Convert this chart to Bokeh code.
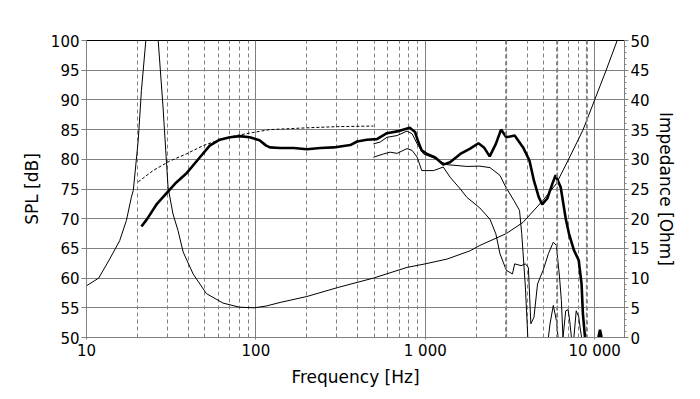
import numpy as np
from bokeh.plotting import figure
from bokeh.models import Range1d, LinearAxis, FixedTicker, Span, CustomJSTickFormatter
from bokeh.embed import file_html
from bokeh.resources import INLINE

# ---------------- data ----------------
x_major = [10, 100, 1000, 10000]
x_minor = [20, 30, 40, 50, 60, 70, 80, 90,
           200, 300, 400, 500, 600, 700, 800, 900,
           2000, 3000, 4000, 5000, 6000, 7000, 8000, 9000]
spl_ticks = [50, 55, 60, 65, 70, 75, 80, 85, 90, 95, 100]
imp_ticks = [0, 5, 10, 15, 20, 25, 30, 35, 40, 45, 50]
bold_minor = [3000, 6000, 9000]

# impedance curve (Ohm, right axis)
imp_f = [10, 11.8, 13.7, 15.7, 17.2, 18.4, 18.9, 20.2, 21.1, 22.4, 24.5, 26.5, 28.3,
         30.3, 32.4, 34.7, 37.2, 42.6, 51, 63.9, 80, 98, 115, 139, 200, 303, 494,
         780, 1000, 1343, 1840, 2100, 3010, 3780, 4960, 5940, 7130, 8520, 10000,
         11690, 13580, 15000]
imp_ohm = [8.7, 10.0, 13.2, 16.3, 19.7, 23.6, 24.8, 33.2, 41.6, 50, 63, 50, 38.8,
           25.3, 20.8, 18.0, 14.4, 10.7, 7.4, 5.8, 5.1, 5.0, 5.3, 5.9, 6.9, 8.4, 10.0,
           11.8, 12.4, 13.2, 14.6, 15.5, 17.5, 19.4, 23.1, 25.9, 30.4, 34.9, 40.0,
           45.0, 50.0, 54.0]

# on-axis SPL (thick)
spl_f = [21.1, 22.6, 24.2, 25.9, 29.7, 33.9, 38.8, 46.6, 53.4, 61.2, 70.3, 80.3, 92,
         105, 115, 121, 139, 167, 200, 240, 287, 361, 396, 452, 518, 594, 682, 810,
         870, 910, 953, 1024, 1145, 1277, 1400, 1610, 1840, 2060, 2220, 2400, 2610,
         2800, 3010, 3370, 3780, 4120, 4380, 4680, 4900, 5250, 5630, 5880, 6300,
         6750, 7050, 7540, 8050, 8370, 8520, 8770]
spl_db = [68.7, 69.8, 71.1, 72.4, 74.3, 76.1, 77.6, 80.3, 82.3, 83.3, 83.7, 83.9, 83.7,
          83.2, 82.3, 82.0, 81.9, 81.9, 81.7, 81.9, 82.0, 82.4, 83.0, 83.3, 83.4, 84.4,
          84.7, 85.3, 84.6, 82.9, 81.5, 80.9, 80.3, 79.1, 79.5, 80.9, 81.8, 82.7, 82.0,
          80.5, 82.6, 85.0, 83.7, 84.0, 82.0, 79.8, 76.4, 73.6, 72.4, 73.4, 75.9, 77.3,
          75.3, 70.0, 67.5, 64.7, 63.0, 59.0, 54.0, 50.0]

# small on-axis remnant near 11 kHz
blip_f = [10400, 10600, 10750, 10900, 11100]
blip_db = [49.0, 50.5, 51.3, 50.5, 49.0]

# simulated / dashed curve
dash_f = [20.2, 24.7, 31, 38.8, 48.8, 61.2, 76.6, 96, 115, 121, 200, 303, 494]
dash_db = [76.2, 78.1, 79.7, 80.9, 82.3, 83.3, 84.0, 84.5, 84.9, 85.0, 85.3, 85.5, 85.6]

# off-axis 1 (upper thin)
off1_f = [494, 541, 594, 682, 780, 836, 896, 977, 1120, 1340, 1760, 2100, 2410, 2760,
          2990, 3330, 3600, 3710, 3900, 4030, 4300, 5330, 5450, 5700, 5940, 6080,
          6300, 6500, 6750, 6970, 7130, 7290, 7400, 7540, 7780, 8050, 8210, 8370, 8500]
off1_db = [82.6, 82.9, 83.7, 84.0, 84.75, 84.3, 82.6, 80.9, 80.25, 79.1, 78.8, 78.85,
           78.6, 77.3, 75.3, 73.1, 71.4, 67.5, 58.5, 50.0, 45.0, 50.0, 52.3, 55.4, 52.9,
           50.0, 47.0, 50.0, 54.5, 54.7, 52.7, 50.0, 48.0, 50.0, 54.5, 53.5, 51.6, 50.0,
           47.0]

# off-axis 2 (lower thin)
off2_f = [494, 566, 620, 682, 780, 836, 896, 953, 1120, 1277, 1400, 1610, 1760, 2100,
          2410, 2610, 2760, 3010, 3270, 3370, 3680, 3900, 4060, 4200, 4380, 4600, 4780,
          4960, 5330, 5700, 5940, 6200, 6360, 6500, 6700]
off2_db = [80.35, 80.9, 81.2, 81.0, 81.8, 81.5, 80.35, 78.1, 78.1, 78.7, 77.0, 75.0,
           73.6, 71.8, 69.9, 67.45, 64.1, 61.3, 60.7, 62.4, 62.1, 62.4, 61.8, 52.3, 53.4,
           59.0, 60.2, 61.3, 64.1, 66.05, 65.5, 60.2, 56.2, 50.0, 46.0]

# ---------------- figure ----------------
FONT = "DejaVu Sans"
GRID = "#808080"

p = figure(x_axis_type="log", x_range=Range1d(10, 15000), y_range=Range1d(50, 100),
           frame_width=538, frame_height=297,
           min_border_left=86, min_border_right=74, min_border_top=40, min_border_bottom=56,
           output_backend="svg", toolbar_location=None)
p.extra_y_ranges = {"imp": Range1d(0, 50)}
p.outline_line_color = "black"
p.background_fill_color = "white"
p.border_fill_color = "white"

# x axis
xa = p.xaxis[0]
xa.ticker = FixedTicker(ticks=x_major, minor_ticks=x_minor)
xa.formatter = CustomJSTickFormatter(code="""
const s = Math.round(tick).toString();
return s.replace(/\\B(?=(\\d{3})+(?!\\d))/g, ' ');
""")
xa.axis_label = "Frequency [Hz]"
xa.minor_tick_line_color = None
xa.major_tick_in = 0
xa.major_tick_out = 2

# left axis
ya = p.yaxis[0]
ya.ticker = FixedTicker(ticks=spl_ticks)
ya.axis_label = "SPL [dB]"
ya.minor_tick_line_color = None
ya.major_tick_in = 0
ya.major_tick_out = 5

# right axis
ra = LinearAxis(y_range_name="imp", ticker=FixedTicker(ticks=imp_ticks,
                minor_ticks=list(range(0, 51))), axis_label="Impedance [Ohm]")
ra.major_tick_in = 0
ra.major_tick_out = 4
ra.minor_tick_in = 0
ra.minor_tick_out = 2
p.add_layout(ra, "right")

for ax in (xa, ya, ra):
    ax.axis_line_color = GRID
    ax.major_tick_line_color = GRID
    ax.major_label_text_font = FONT
    ax.major_label_text_font_size = "15px"
    ax.major_label_text_color = "black"
    ax.axis_label_text_font = FONT
    ax.axis_label_text_font_size = "17px"
    ax.axis_label_text_font_style = "normal"
    ax.axis_label_text_color = "black"
ra.minor_tick_line_color = GRID
xa.major_label_standoff = 0
ya.major_label_standoff = 2
ra.major_label_standoff = 2
xa.axis_label_standoff = 4
ya.axis_label_standoff = 6
ra.axis_label_standoff = 3

# grids
p.xgrid.grid_line_color = GRID
p.xgrid.grid_line_alpha = 1
p.xgrid.minor_grid_line_color = GRID
p.xgrid.minor_grid_line_dash = "4 3"
p.ygrid.grid_line_color = GRID
p.ygrid.grid_line_alpha = 1
for f in bold_minor:
    p.add_layout(Span(location=f, dimension="height", line_color=GRID,
                      line_width=2, line_dash="4 3"))

# curves
p.line(imp_f, imp_ohm, y_range_name="imp", line_color="black", line_width=1)
p.line(dash_f, dash_db, line_color="black", line_width=1, line_dash="3 2")
p.line(off2_f, off2_db, line_color="black", line_width=1)
p.line(off1_f, off1_db, line_color="black", line_width=1)
p.line(spl_f, spl_db, line_color="black", line_width=2.6)
p.line(blip_f, blip_db, line_color="black", line_width=2.6)

with open("out.html", "w") as fh:
    fh.write(file_html(p, INLINE))
